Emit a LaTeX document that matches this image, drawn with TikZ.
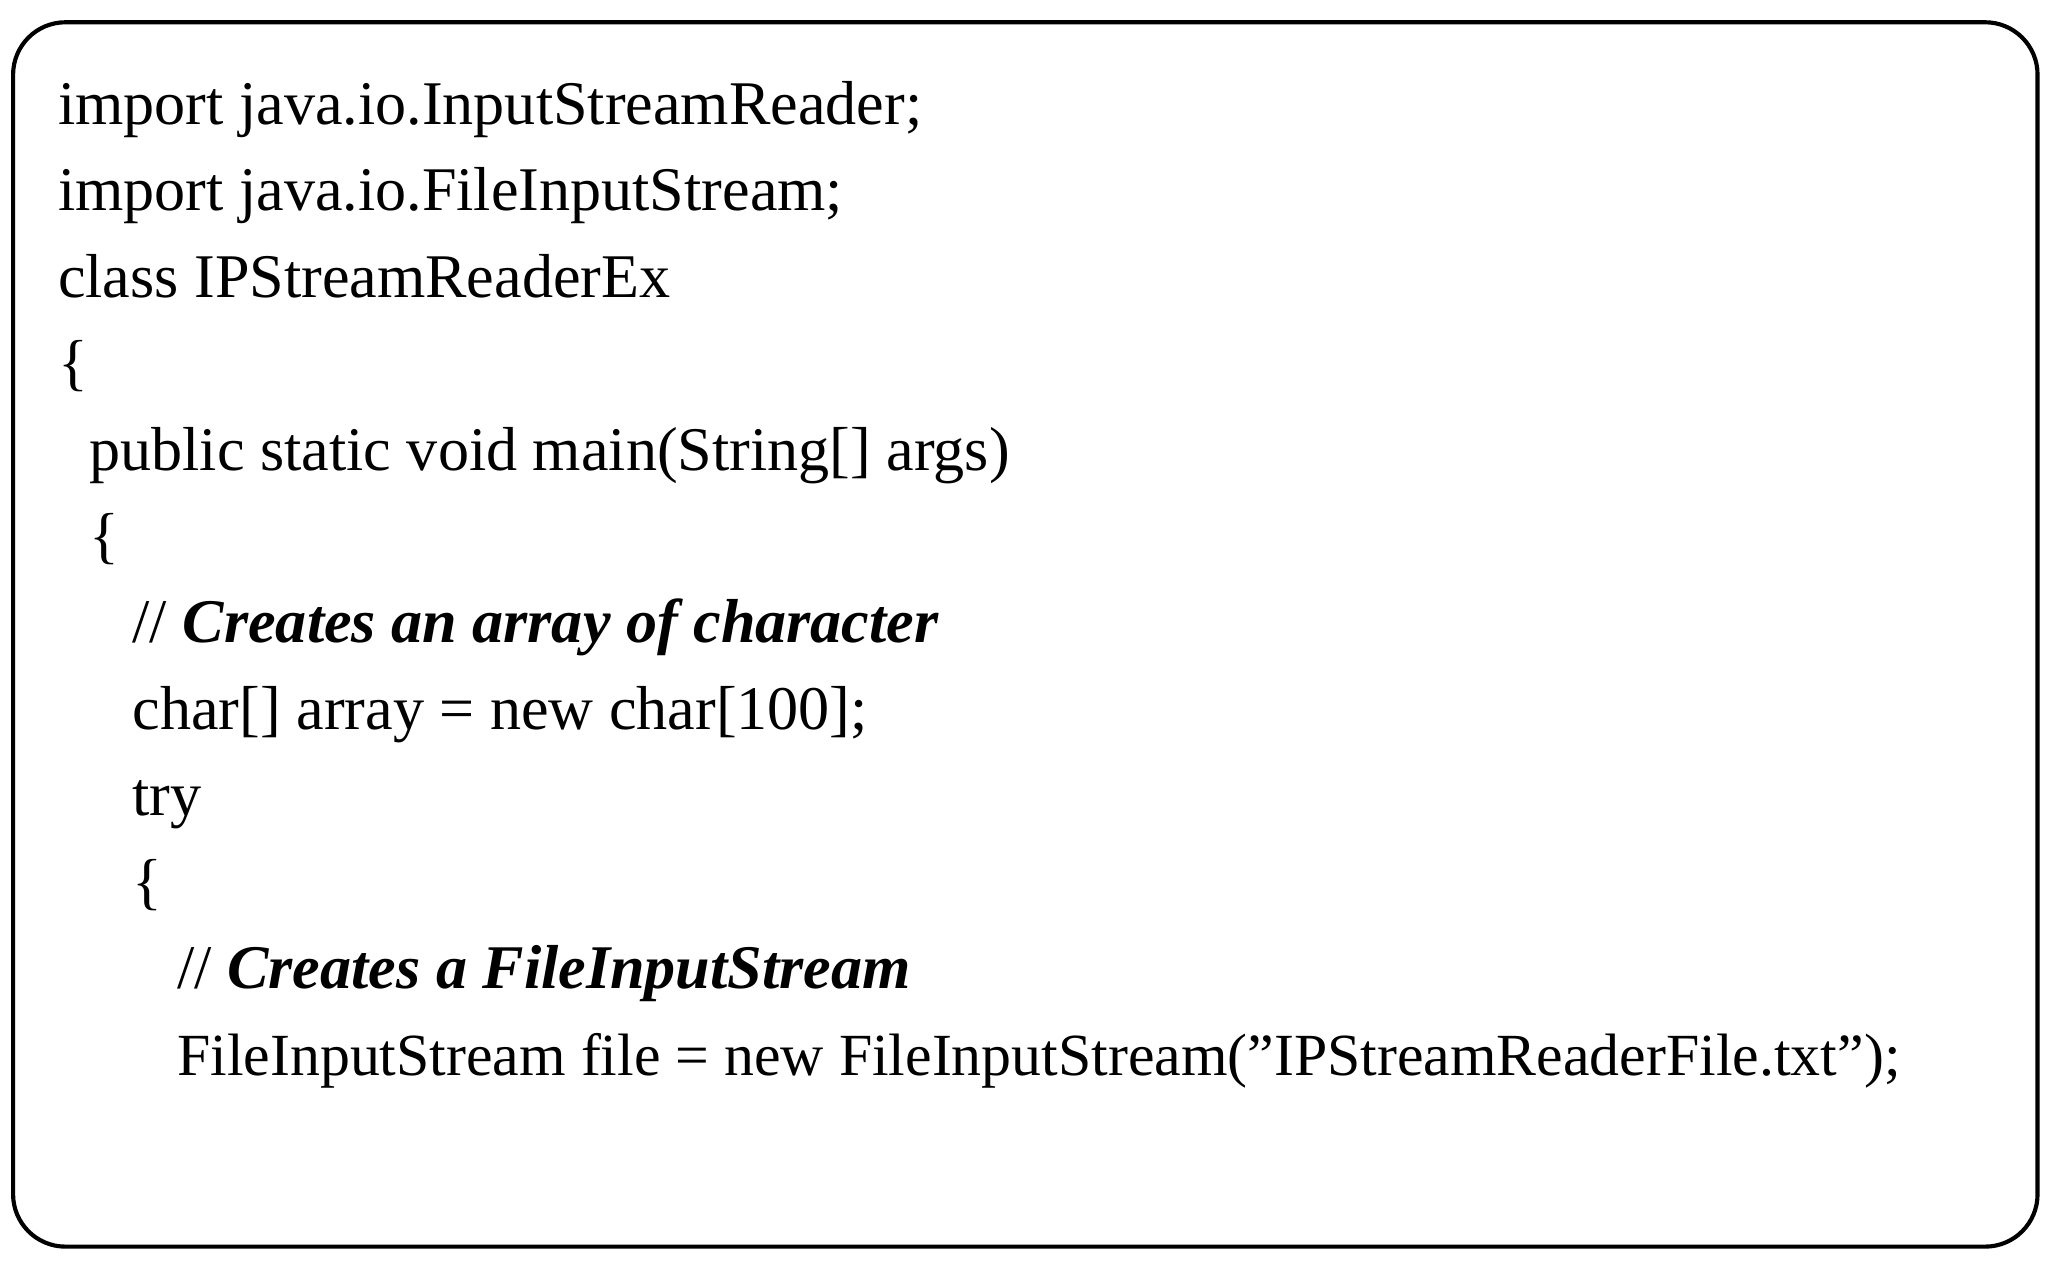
\documentclass[tikz,border=0pt]{standalone}
\usepackage{fontspec}
\setmainfont{Liberation Serif}
\begin{document}
\begin{tikzpicture}[x=0.02cm,y=-0.02cm,
  code/.style={anchor=base west,inner sep=0pt,font=\fontsize{27}{30}\selectfont}]
\useasboundingbox (0,0) rectangle (1564,970);
\draw[line width=1.8pt,rounded corners=0.8cm] (10,17) rectangle (1556,952);
\node[code] (l1) at (44,95) {import java.io.InputStreamReader;};
\node[code] (l2) at (44,161) {import java.io.FileInputStream;};
\node[code] (l3) at (44,227) {class IPStreamReaderEx};
\node[code] (l4) at (44,293) {\{};
\node[code] (l5) at (68,359) {public static void main(String[] args)};
\node[code] (l6) at (68,425) {\{};
\node[code] (l7) at (101,491) {// \textbf{\textit{Creates an array of character}}};
\node[code] (l8) at (101,557) {char[] array = new char[100];};
\node[code] (l9) at (101,623) {try};
\node[code] (l10) at (101,689) {\{};
\node[code] (l11) at (135,755) {// \textbf{\textit{Creates a FileInputStream}}};
\node[code,font=\fontsize{26}{30}\selectfont] (l12) at (135,821) {FileInputStream file = new FileInputStream(\symbol{34}IPStreamReaderFile.txt\symbol{34});};
\end{tikzpicture}
\end{document}
